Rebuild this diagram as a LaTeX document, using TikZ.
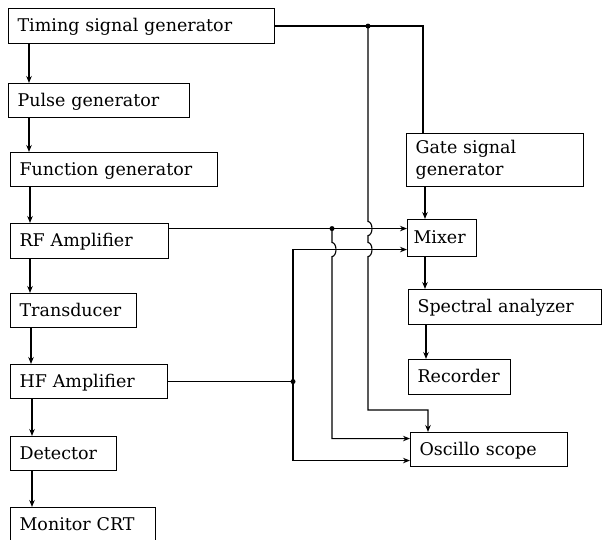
\documentclass[tikz,border=0pt]{standalone}
\usepackage{fontspec}
\setmainfont{DejaVu Serif}[WordSpace=1.5]
\usetikzlibrary{arrows.meta}
\begin{document}
\begin{tikzpicture}[x=1pt,y=-1pt,
  font={\fontsize{17.5}{22}\selectfont},
  boxbase/.style={draw, line width=1.1pt, anchor=north west, inner xsep=9pt, inner ysep=0pt, align=left},
  box/.style={boxbase, text height=13pt, text depth=2pt},
  wire/.style={line width=1.1pt},
  arr/.style={wire, -{Stealth[length=7pt,width=5.5pt]}}]
\useasboundingbox (0,0) rectangle (602,540);
% left column
\node[box, minimum width=266pt, minimum height=35pt, text width=248pt] (tim) at (8,8) {Timing signal generator};
\node[box, minimum width=181pt, minimum height=34pt, text width=163pt] (pul) at (8,83) {Pulse generator};
\node[box, minimum width=207pt, minimum height=34pt, text width=189pt] (fun) at (10,152) {Function generator};
\node[box, minimum width=158pt, minimum height=35pt, text width=140pt] (rf) at (10,223) {RF Amplifier};
\node[box, minimum width=126pt, minimum height=34pt, text width=108pt] (tra) at (10,293) {Transducer};
\node[box, minimum width=157pt, minimum height=34pt, text width=139pt] (hf) at (10,364) {HF Amplifier};
\node[box, minimum width=106pt, minimum height=34pt, text width=88pt] (det) at (10,436) {Detector};
\node[box, minimum width=145pt, minimum height=34pt, text width=127pt] (mon) at (10,507) {Monitor CRT};
% right column
\node[boxbase, minimum width=177pt, minimum height=53pt, text width=159pt] (gate) at (406,133) {Gate signal\\generator};
\node[box, minimum width=69pt, minimum height=37pt, text width=57pt, inner xsep=6pt] (mix) at (407,219) {Mixer};
\node[box, minimum width=193pt, minimum height=35pt, text width=175pt] (spe) at (408,289) {Spectral analyzer};
\node[box, minimum width=102pt, minimum height=35pt, text width=84pt] (rec) at (408,359) {Recorder};
\node[box, minimum width=157pt, minimum height=34pt, text width=139pt] (osc) at (410,432) {Oscillo scope};
% left column arrows
\draw[arr] ([xshift=21pt]tim.south west) -- ([xshift=21pt]tim.south west |- pul.north);
\draw[arr] ([xshift=21pt]pul.south west) -- ([xshift=21pt]pul.south west |- fun.north);
\draw[arr] ([xshift=20pt]fun.south west) -- ([xshift=20pt]fun.south west |- rf.north);
\draw[arr] ([xshift=20pt]rf.south west) -- ([xshift=20pt]rf.south west |- tra.north);
\draw[arr] ([xshift=21pt]tra.south west) -- ([xshift=21pt]tra.south west |- hf.north);
\draw[arr] ([xshift=22pt]hf.south west) -- ([xshift=22pt]hf.south west |- det.north);
\draw[arr] ([xshift=22pt]det.south west) -- ([xshift=22pt]det.south west |- mon.north);
% right column arrows
\draw[arr] ([xshift=19pt]gate.south west) -- ([xshift=19pt]gate.south west |- mix.north);
\draw[arr] ([xshift=18pt]mix.south west) -- ([xshift=18pt]mix.south west |- spe.north);
\draw[arr] ([xshift=18pt]spe.south west) -- ([xshift=18pt]spe.south west |- rec.north);
% named points
\coordinate (mixa) at ([yshift=9.5pt]mix.west);
\coordinate (mixb) at ([yshift=-11.5pt]mix.west);
\coordinate (osca) at ([yshift=11pt]osc.west);
\coordinate (oscb) at ([yshift=-11pt]osc.west);
\coordinate (osctop) at ([xshift=18pt]osc.north west);
\coordinate (gatetop) at ([xshift=17pt]gate.north west);
\coordinate (j1) at (368,0 |- tim.east);
\coordinate (j2) at (332,0 |- mixa);
\coordinate (j3) at (293,0 |- hf.east);
% timing line
\draw[wire] (tim.east) -- (tim.east -| gatetop) -- (gatetop);
\draw[arr] (j1) -- ([yshift=7pt]j1 |- mixa)
  arc[start angle=90, end angle=-90, x radius=4pt, y radius=7pt]
  -- ([yshift=7pt]j1 |- mixb)
  arc[start angle=90, end angle=-90, x radius=4pt, y radius=7pt]
  -- (j1 |- 0,410) -- (osctop |- 0,410) -- (osctop);
% RF line
\draw[arr] (rf.east |- mixa) -- (mixa);
\draw[arr] (j2) -- ([yshift=7pt]j2 |- mixb)
  arc[start angle=90, end angle=-90, x radius=4pt, y radius=7pt]
  -- (j2 |- osca) -- (osca);
% HF line
\draw[wire] (hf.east) -- (j3);
\draw[arr] (j3) -- (j3 |- mixb) -- (mixb);
\draw[arr] (j3) -- (j3 |- oscb) -- (oscb);
% junction dots
\fill (j1) circle (2.5pt);
\fill (j2) circle (2.5pt);
\fill (j3) circle (2.5pt);
\end{tikzpicture}
\end{document}
